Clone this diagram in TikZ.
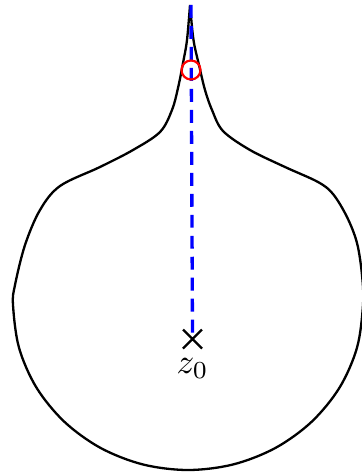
\documentclass[tikz,border=0pt]{standalone}
\usetikzlibrary{calc}
\begin{document}
\begin{tikzpicture}[x=0.286pt,y=-0.286pt,
  contour/.style={black,line width=0.66pt,line join=round},
  ray/.style={blue,line width=0.95pt,dash pattern=on 3.7pt off 2.3pt},
  marker/.style={red,line width=0.62pt},
  crossmark/.style={black,line width=0.68pt}]
\useasboundingbox (0,0) rectangle (362,473);
% contour
\draw[contour] plot[smooth,tension=0.55] coordinates {
 (190,5) (193.5,40) (199,65) (205,90) (212,110) (223,131) (250,150)
 (285,167) (318,182) (333,194) (347,217) (357,243) (362,275) (363,305)
 (357,347.7) (339.6,387.5) (311.7,421.7) (275.5,447.9) (233.3,464.4)
 (188,470) (142.7,464.4) (100.5,447.9) (64.3,421.7) (36.4,387.5)
 (19,347.7) (13,305) (15,285) (25,245) (40,210) (60,186) (100,167)
 (133,150) (160,132) (172,110) (178,88) (183,63) (187,40) (190,5)};
% z0
\coordinate (z0) at (192.5,339);
\coordinate (top) at (191,5);
\coordinate (pt) at (191,70);
\draw[ray] (top) -- (z0);
\draw[marker] (pt) circle[radius=9.5];
\draw[crossmark] ($(z0)+(-9.5,-9.5)$) -- ($(z0)+(9.5,9.5)$) ($(z0)+(-9.5,9.5)$) -- ($(z0)+(9.5,-9.5)$);
\node[below=2pt] (lbl) at (z0) {$z_0$};
\end{tikzpicture}
\end{document}
